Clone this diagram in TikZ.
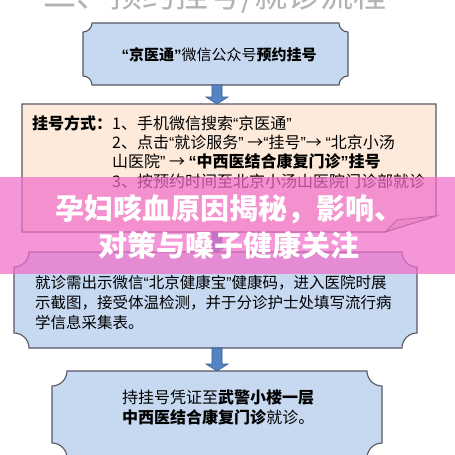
\documentclass[tikz,border=0pt]{standalone}
\usepackage{fontspec}
\setmainfont{Noto Sans CJK SC}
\newfontfamily\qfont{Liberation Sans}
\usetikzlibrary{calc}

\definecolor{boxblue}{RGB}{198,217,241}
\definecolor{notepeach}{RGB}{253,234,218}
\definecolor{flapbrown}{RGB}{226,206,190}
\definecolor{edgegray}{RGB}{85,88,100}
\definecolor{arrowblue}{RGB}{84,132,196}
\definecolor{arrowedge}{RGB}{56,93,140}
\definecolor{bannerpink}{RGB}{240,110,200}

% narrow quotes
\newcommand{\oq}{{\qfont “}}
\newcommand{\cq}{{\qfont ”}}

% plaque frame with concave corners round node #2, corner radius #3
\newcommand{\plaque}[3][]{%
  \draw[#1] ($(#2.north west)+(#3,0)$) -- ($(#2.north east)+(-#3,0)$)
    .. controls ($(#2.north east)+(-#3,0.55*#3)$) and ($(#2.north east)+(-0.55*#3,#3)$) .. ($(#2.north east)+(0,#3)$)
    -- ($(#2.south east)+(0,-#3)$)
    .. controls ($(#2.south east)+(-0.55*#3,-#3)$) and ($(#2.south east)+(-#3,-0.55*#3)$) .. ($(#2.south east)+(-#3,0)$)
    -- ($(#2.south west)+(#3,0)$)
    .. controls ($(#2.south west)+(#3,-0.55*#3)$) and ($(#2.south west)+(0.55*#3,-#3)$) .. ($(#2.south west)+(0,-#3)$)
    -- ($(#2.north west)+(0,#3)$)
    .. controls ($(#2.north west)+(0.55*#3,#3)$) and ($(#2.north west)+(#3,0.55*#3)$) .. ($(#2.north west)+(#3,0)$)
    -- cycle;}

% block arrow on the axis from node #1 down to node #2
\newcommand{\blockarrow}[2]{%
  \path (axis |- #1.south) coordinate (as) (axis |- #2.north) coordinate (ae);
  \draw[flowarrow] ($(as)+(-5,0)$) -- ($(ae)+(-5,-7)$) -- ($(ae)+(-11,-7)$) -- (ae)
    -- ($(ae)+(11,-7)$) -- ($(ae)+(5,-7)$) -- ($(as)+(5,0)$) -- cycle;}

\begin{document}
\begin{tikzpicture}[x=1pt,y=-1pt,
  holder/.style={inner sep=0pt,outer sep=0pt},
  plaquebox/.style={draw=edgegray,line width=1.1pt,fill=boxblue},
  notebox/.style={draw=edgegray,line width=1.1pt,fill=notepeach},
  flap/.style={draw=edgegray,line width=0.8pt,fill=flapbrown},
  flowarrow/.style={draw=arrowedge,line width=0.6pt,fill=arrowblue},
  bodytext/.style={inner sep=0pt,anchor=base west,font=\fontsize{16}{19}\selectfont},
  bannerbox/.style={inner sep=0pt,fill=bannerpink,fill opacity=0.72},
  headline/.style={inner sep=0pt,anchor=base,text=white,font=\bfseries\fontsize{29}{37}\selectfont}]

\useasboundingbox (0,0) rectangle (455,455);
\fill[white] (0,0) rectangle (455,455);
\coordinate (axis) at (217,0);

% title, cut by the top edge
\node[inner sep=0pt,anchor=base,text=gray!60,font=\fontsize{33}{36}\selectfont] (title) at (215,7) {二、预约挂号/就诊流程};

% === Box 1 ===
\node[holder,minimum width=265pt,minimum height=62pt] (b1) at (215.5,54) {};
\plaque[plaquebox]{b1}{9}
\node[inner sep=0pt,font=\fontsize{15}{18}\selectfont] (t1) at (219,55)
  {\textbf{\oq 京医通\cq}微信公众号\textbf{预约挂号}};

% === Box 2 ===
\node[holder,minimum width=414pt,minimum height=128pt] (b2) at (229,168) {};
\draw[notebox] (b2.north west) -- (b2.north east) -- ($(b2.south east)+(0,-16)$)
  -- ($(b2.south east)+(-51,0)$) -- (b2.south west) -- cycle;
\draw[flap] ($(b2.south east)+(0,-16)$) -- ($(b2.south east)+(-39,-12)$)
  -- ($(b2.south east)+(-51,0)$) -- cycle;
\node[bodytext] (t2) at (32,129) {\begin{tabular}[t]{@{}l@{}l@{}}
  \textbf{挂号方式：} & 1、手机微信搜索\oq 京医通\cq \\
   & 2、点击\oq 就诊服务\cq\ →\oq 挂号\cq → \oq 北京小汤 \\
   & 山医院\cq\ → \textbf{\oq 中西医结合康复门诊\cq 挂号} \\
   & 3、按预约时间至北京小汤山医院门诊部就诊
  \end{tabular}};

% === Box 3 ===
\node[holder,minimum width=403pt,minimum height=96pt] (b3) at (215.5,300) {};
\plaque[plaquebox]{b3}{15}
\node[bodytext,font=\fontsize{15.5}{20}\selectfont] (t3) at (35,288) {\begin{tabular}[t]{@{}l@{}}
  就诊需出示微信\oq 北京健康宝\cq 健康码，进入医院时展 \\
  示截图，接受体温检测，并于分诊护士处填写流行病 \\
  学信息采集表。
  \end{tabular}};

% === Box 4 ===
\node[holder,minimum width=330pt,minimum height=87pt] (b4) at (217,414.5) {};
\plaque[plaquebox]{b4}{15}
\node[bodytext,font=\fontsize{16}{20}\selectfont] (t4) at (122,403) {\begin{tabular}[t]{@{}l@{}}
  持挂号凭证至\textbf{武警小楼一层} \\
  \textbf{中西医结合康复门诊}就诊。
  \end{tabular}};

% arrows
\blockarrow{b1}{b2}
\blockarrow{b2}{b3}
\blockarrow{b3}{b4}

% banner over the chart
\node[bannerbox,minimum width=455pt,minimum height=97pt] (banner) at (227.5,225.5) {};
\node[headline] (head) at (229,219) {\begin{tabular}[t]{@{}c@{}}
  孕妇咳血原因揭秘，影响、 \\
  对策与嗓子健康关注
  \end{tabular}};

\end{tikzpicture}
\end{document}
